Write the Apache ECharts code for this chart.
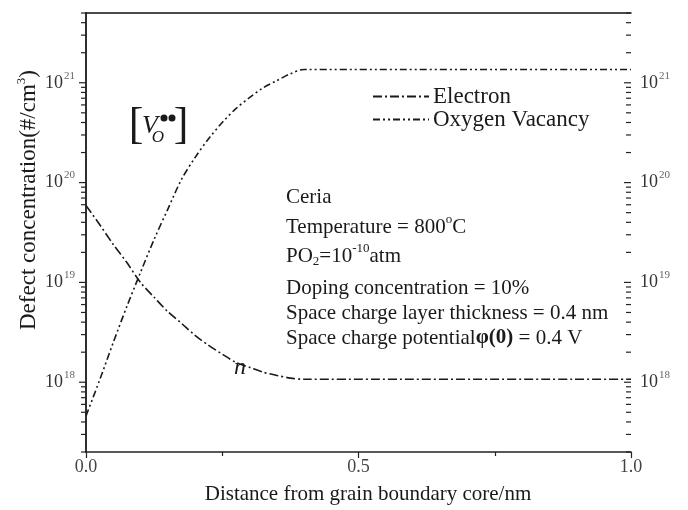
<!DOCTYPE html>
<html>
<head>
<meta charset="utf-8">
<script src="https://cdn.jsdelivr.net/npm/echarts@6/dist/echarts.min.js"></script>
<style>
  html, body { margin: 0; padding: 0; background: #fff; }
  #chart { width: 688px; height: 510px; }
</style>
</head>
<body>
<div id="chart"></div>
<script>
// Distance from the grain boundary core (nm)
const distance = [0, 0.025, 0.05, 0.075, 0.1, 0.125, 0.15, 0.175, 0.2, 0.225, 0.25, 0.275, 0.3, 0.325, 0.35, 0.375, 0.4, 1.0];

// Electron concentration n (#/cm^3)
const electron = [5.9e19, 3.8e19, 2.4e19, 1.58e19, 1.0e19, 7.1e18, 5.1e18, 3.9e18, 2.95e18, 2.34e18, 1.91e18, 1.58e18, 1.41e18, 1.26e18, 1.17e18, 1.10e18, 1.07e18, 1.07e18];

// Oxygen vacancy concentration (#/cm^3)
const vacancy = [4.6e17, 1.05e18, 2.5e18, 5.75e18, 1.26e19, 2.7e19, 5.4e19, 1.07e20, 1.78e20, 2.75e20, 4.0e20, 5.5e20, 7.1e20, 8.9e20, 1.05e21, 1.23e21, 1.36e21, 1.36e21];

// Axis ranges and decade labels
const xTicks = [0, 0.5, 1.0];
const yMin = 2e17;
const yMax = 5e21;
const decades = [18, 19, 20, 21];

const seriesNames = ['Electron', 'Oxygen Vacancy'];

const serif = '"Liberation Serif", "Times New Roman", serif';
const ink = '#1a1a1a';

// Log-axis tick values: decades (major) and 2..9 multiples (minor)
const yTickMarks = [];
for (let e = 17; e <= 21; e++) {
  for (let k = 1; k <= 9; k++) {
    const v = k * Math.pow(10, e);
    if (v >= yMin && v <= yMax) yTickMarks.push([v, k === 1 ? 1 : 0]);
  }
}

function pairs(xs, ys) { return xs.map((x, i) => [x, ys[i]]); }

function decadeLabel(v) {
  const e = Math.log10(v);
  const r = Math.round(e);
  if (Math.abs(e - r) > 1e-6 || decades.indexOf(r) < 0) return '';
  return '{b|10}{s|' + r + '}';
}

const labelRich = {
  b: { fontFamily: serif, fontSize: 18, color: '#333' },
  s: { fontFamily: serif, fontSize: 11, color: '#666', padding: [0, 0, 14, 1] }
};

const chart = echarts.init(document.getElementById('chart'), null, { renderer: 'canvas' });

chart.setOption({
  backgroundColor: '#fff',
  animation: false,
  grid: { left: 86, right: 57, top: 13, bottom: 58, containLabel: false },
  legend: {
    data: seriesNames,
    orient: 'vertical',
    left: 367,
    top: 80,
    itemWidth: 56,
    itemHeight: 12,
    itemGap: 0,
    itemStyle: { opacity: 0 },
    textStyle: { fontFamily: serif, fontSize: 23, color: ink, padding: [0, 0, 0, -1] }
  },
  xAxis: [
    {
      type: 'value', min: 0, max: 1, interval: 0.5,
      axisLine: { lineStyle: { color: '#222', width: 1.5 } },
      axisTick: { length: 6, lineStyle: { color: '#222', width: 1.2 } },
      minorTick: { show: true, splitNumber: 2, length: 4, lineStyle: { color: '#222', width: 1.2 } },
      splitLine: { show: false },
      axisLabel: {
        margin: 6, fontFamily: serif, fontSize: 18, color: '#444',
        formatter: v => (xTicks.indexOf(v) >= 0 ? v.toFixed(1) : '')
      }
    },
    {
      type: 'value', min: 0, max: 1, position: 'top',
      axisLine: { lineStyle: { color: '#111', width: 1.5 } },
      axisTick: { show: false }, axisLabel: { show: false }, splitLine: { show: false }
    }
  ],
  yAxis: [
    {
      type: 'log', logBase: 10, min: yMin, max: yMax, position: 'left',
      axisLine: { show: true, lineStyle: { color: '#222', width: 1.5 } },
      axisTick: { show: false }, splitLine: { show: false },
      axisLabel: { margin: 11, formatter: decadeLabel, rich: labelRich, showMinLabel: false, showMaxLabel: false }
    },
    {
      type: 'log', logBase: 10, min: yMin, max: yMax, position: 'right',
      axisLine: { show: true, lineStyle: { color: '#222', width: 1.5 } },
      axisTick: { show: false }, splitLine: { show: false },
      axisLabel: { margin: 9, formatter: decadeLabel, rich: labelRich, showMinLabel: false, showMaxLabel: false }
    }
  ],
  series: [
    {
      name: 'Electron', type: 'line', data: pairs(distance, electron),
      smooth: 0.3, symbol: 'none',
      lineStyle: { color: ink, width: 1.6, type: [9, 3, 2, 3] },
      itemStyle: { color: ink }
    },
    {
      name: 'Oxygen Vacancy', type: 'line', data: pairs(distance, vacancy),
      smooth: 0.3, symbol: 'none',
      lineStyle: { color: ink, width: 1.6, type: [7, 3, 2, 3, 2, 3] },
      itemStyle: { color: ink }
    },
    {
      // log tick marks: outward on the left axis, inward on the right axis
      type: 'custom', silent: true, clip: false,
      data: yTickMarks,
      renderItem: function (params, api) {
        const v = api.value(0);
        const major = api.value(1) === 1;
        const len = major ? 7 : 5;
        const pl = api.coord([0, v]);
        const pr = api.coord([1, v]);
        const st = { stroke: '#222', lineWidth: 1.2 };
        return {
          type: 'group',
          children: [
            { type: 'line', shape: { x1: pl[0] - len, y1: pl[1], x2: pl[0], y2: pl[1] }, style: st },
            { type: 'line', shape: { x1: pr[0] - len, y1: pr[1], x2: pr[0], y2: pr[1] }, style: st }
          ]
        };
      }
    }
  ],
  graphic: [
    // y-axis title
    {
      type: 'text', x: 29, y: 200, rotation: Math.PI / 2,
      style: {
        text: 'Defect concentration(#/cm{s|3})',
        font: '23px ' + serif, fill: ink, align: 'center', verticalAlign: 'middle',
        rich: { s: { fontFamily: serif, fontSize: 13, fill: ink, padding: [0, 0, 14, 0] } }
      }
    },
    // x-axis title
    {
      type: 'text', x: 368, y: 494,
      style: { text: 'Distance from grain boundary core/nm', font: '21px ' + serif, fill: ink, align: 'center', verticalAlign: 'middle' }
    },
    // [V_O••] label
    { type: 'text', x: 136, y: 126, style: { text: '[', font: '44px ' + serif, fill: ink, align: 'center', verticalAlign: 'middle' } },
    { type: 'text', x: 181, y: 126, style: { text: ']', font: '44px ' + serif, fill: ink, align: 'center', verticalAlign: 'middle' } },
    { type: 'text', x: 150, y: 126, style: { text: 'V', font: 'italic 26px ' + serif, fill: ink, align: 'center', verticalAlign: 'middle' } },
    { type: 'text', x: 158, y: 138, style: { text: 'O', font: 'italic 17px ' + serif, fill: ink, align: 'center', verticalAlign: 'middle' } },
    { type: 'circle', shape: { cx: 164, cy: 118, r: 3.5 }, style: { fill: ink } },
    { type: 'circle', shape: { cx: 172, cy: 118, r: 3.5 }, style: { fill: ink } },
    // n label
    { type: 'text', x: 240, y: 368, style: { text: 'n', font: 'italic 24px ' + serif, fill: ink, align: 'center', verticalAlign: 'middle' } },
    // condition notes
    {
      type: 'group', x: 286, y: 0,
      children: [
        { text: 'Ceria', y: 197 },
        { text: 'Temperature = 800{sup|o}C', y: 227 },
        { text: 'PO{sub|2}=10{sup|-10}atm', y: 256 },
        { text: 'Doping concentration = 10%', y: 288 },
        { text: 'Space charge layer thickness = 0.4 nm', y: 313 },
        { text: 'Space charge potential{b|φ(0)} = 0.4 V', y: 338 }
      ].map(r => ({
        type: 'text', x: 0, y: r.y,
        style: {
          text: r.text, font: '21px ' + serif, fill: ink, align: 'left', verticalAlign: 'middle',
          rich: {
            sup: { fontFamily: serif, fontSize: 13, fill: ink, padding: [0, 0, 14, 0] },
            sub: { fontFamily: serif, fontSize: 13, fill: ink, padding: [11, 0, 0, 0] },
            b: { fontFamily: serif, fontSize: 21, fontWeight: 'bold', fill: ink }
          }
        }
      }))
    }
  ]
});
</script>
</body>
</html>
